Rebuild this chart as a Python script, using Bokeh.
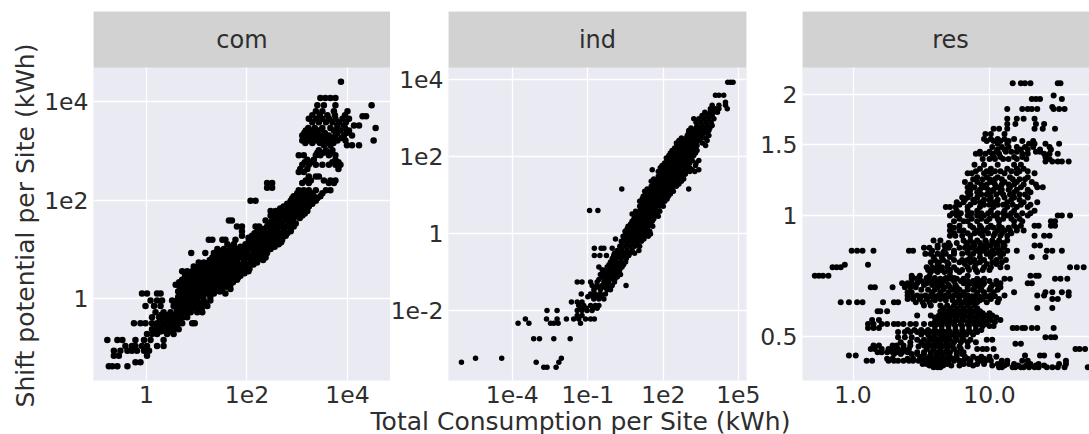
import numpy as np
from bokeh.plotting import figure
from bokeh.layouts import column, row
from bokeh.models import BoxAnnotation, FixedTicker, Label, Range1d
from bokeh.embed import file_html
from bokeh.resources import INLINE

# values are log10 of the data
com_log_y = [-1.36,-1.28,-1.15,-1.05,-.95,-.83,-.71,-.61,-.49,-.37,-.27,-.14,-.03,.11,.2,.29,.39,.47,.56,.66,.74,.84,.93,1.01,1.11,1.2,1.28,1.37,1.47,1.59,1.69,1.78,1.87,1.99,2.08,2.2,2.25,2.35,2.4,2.48,2.57,2.72,2.82,2.91,3.01,3.11,3.21,3.31,3.41,3.46,3.51,3.65,3.7,3.8,3.92,4.07,4.4,
 -.08,.04,.15,.25,.34,.43,.52,.61,.7,.79,.88,.97,1.06,1.15,1.24,1.33,1.42,1.53,1.64,1.73,1.83,1.93,2.04,2.14,2.77,3.16,3.26,3.36,3.58,3.72,2.96,-.2,-.32,-.43,-.55,-.66,2.63,3.46]
com_log_x = [
 [-.75,-.68,-.58,-.38],[-.22,-.12],[-.65,-.55,.01],[-.65,-.52,-.38,-.29,-.19,-.05,.05],
 [-.42,-.29,-.22,-.09,.01,.21,.34],[-.78,-.58,-.48,-.22,-.05,.08,.34],[.01,.11,.21,.41,.54],
 [.11,.25,.34,.44,.54,.64],[-.25,-.12,-.02,.11,.21,.34,.48,.61,.71,.91,.96],[.11,.25,.38,.51,.64,.74,.81],
 [.18,.34,.48,.61,.74,.88,1.01,1.11],[-.02,.15,.28,.54,.64,.74,.84,.94,1.07,1.21],
 [.08,.21,.31,.51,.61,.71,.81,.91,1.01,1.14,1.27],[-.09,.01,.21,.28,.68,.78,.88,.98,1.07,1.21,1.34,1.57],
 [.71,.81,.91,1.01,1.11,1.21,1.31,1.41,1.51,1.67],[.58,.71,.81,.91,1.01,1.11,1.21,1.31,1.41,1.54,1.67],
 [.71,.81,.91,1.01,1.11,1.21,1.31,1.41,1.54,1.67,1.8],[.78,.88,.98,1.08,1.18,1.28,1.38,1.48,1.61,1.74,1.87],
 [.71,.81,.91,1.01,1.11,1.21,1.31,1.41,1.51,1.61,1.74,1.87,2.03],[.94,1.04,1.14,1.24,1.34,1.44,1.54,1.64,1.74,1.87,2.0],
 [1.04,1.14,1.24,1.34,1.44,1.54,1.67,1.8,1.94,2.07,2.2],[1.31,1.41,1.51,1.61,1.74,1.87,2.0,2.14,2.27,2.37],
 [.89,1.17,1.34,1.47,1.61,1.74,1.87,2.0,2.14,2.27,2.4],[1.41,1.54,1.67,1.8,1.94,2.07,2.2,2.34,2.47],
 [1.61,1.74,1.97,2.1,2.24,2.37,2.5,2.63],[1.24,1.31,1.51,1.57,1.77,2.07,2.2,2.34,2.47,2.6,2.7],
 [1.9,2.1,2.24,2.37,2.5,2.63,2.77],[1.9,2.2,2.34,2.47,2.6,2.73,2.87],[1.8,1.9,2.17,2.24,2.4,2.54,2.67,2.8,2.93],
 [1.64,1.7,2.37,2.5,2.63,2.77,2.9],[2.47,2.6,2.73,2.87,3.0,3.1],[2.47,2.57,2.7,2.83,2.97,3.1,3.2],
 [2.73,2.87,3.0,3.13,3.23],[2.07,2.17,2.87,2.97,3.1,3.23,3.37],[2.93,3.07,3.2,3.33,3.46],[3.03,3.13,3.23,3.37,3.57,3.66],
 [2.4,2.5],[2.4,2.5,3.1,3.23,3.63,3.73],[3.17,3.27,3.53,3.66,3.76],[3.23,3.37,3.43],[3.03,3.13],
 [3.1,3.23,3.37,3.5,3.63,3.76,3.86],[3.2,3.33,3.76],[3.03,3.13,3.37,3.46,3.63,3.76],[3.43,3.57,3.7],
 [3.53,3.66,3.99,4.09,4.23],[3.1,3.23,3.37,3.5,3.63,3.8,3.96,4.52],[3.1,3.23,3.37,3.5,3.63,3.76,3.93,4.09],
 [3.17,3.3,3.43,3.73,3.86,4.03],[4.56],[3.8,3.93,4.13,4.23],[3.23,3.37,3.5,3.63,3.76,3.9,4.03],[4.3,4.37],
 [3.37,3.5,3.73,4.0],[3.4,3.53,3.76,4.48],[3.46,3.56,3.66,3.76],[3.87],
 [.56,.66,.76,.86,.96,1.06,1.16],[.63,.73,.83,.93,1.03,1.13,1.27],[.63,.73,.83,.93,1.03,1.15,1.26,1.36,1.46],
 [.66,.76,.86,.96,1.06,1.16,1.26,1.36,1.46,1.6],[.65,.76,.86,.96,1.06,1.16,1.26,1.36,1.47,1.6,1.72],
 [.76,.86,.96,1.06,1.16,1.26,1.36,1.46,1.57,1.7,1.82],[.76,.86,.96,1.06,1.16,1.26,1.36,1.46,1.56,1.68,1.8,1.95],
 [.99,1.09,1.19,1.29,1.39,1.49,1.59,1.69,1.81,1.94,2.05],[1.09,1.19,1.29,1.39,1.49,1.6,1.73,1.87,2.0,2.13],
 [1.26,1.36,1.46,1.56,1.68,1.8,1.94,2.07,2.2,2.32],[1.4,1.54,1.67,1.8,1.94,2.07,2.2,2.33],[1.48,1.6,1.74,1.87,2.0,2.14,2.27,2.4],
 [1.68,1.87,2.0,2.14,2.27,2.4,2.55],[2.03,2.17,2.3,2.43,2.56,2.68],[2.03,2.17,2.3,2.43,2.56,2.7],[2.15,2.27,2.4,2.54,2.67,2.8],
 [2.3,2.47,2.6,2.74,2.87],[2.44,2.57,2.7,2.84,2.97],[2.54,2.67,2.8,2.93,3.05],[2.53,2.65,2.8,2.9,3.03,3.15],[2.66,2.8,2.93,3.06,3.18],
 [2.8,2.92,3.04,3.17,3.3],[2.9,3.02,3.15,3.28,3.4],[3.0,3.1,3.2,3.3,3.5],[3.15,3.28,3.7,3.82],[3.16,3.3,3.45,3.58,3.72],
 [3.16,3.3,3.44,3.57,3.7,3.88],[3.14,3.27,3.4,3.55,3.8,3.98],[3.3,3.43,3.57,3.7,3.83,3.97],[3.3,3.45,3.6,3.75,3.95],[3.4,3.52,3.66],
 [.6,.7,.8,.9,1.0,1.1],[.3,.44,.58,.68,.78],[.28,.42,.55,.66],[.2,.3,.4,.5,.6],[.16,.28,.38,.48],[3.06,3.2,3.82],[3.22,3.35,3.5,3.66,3.8,3.95],
]

ind_log_y = [-3.48,-3.35,-3.25,-2.74,-2.34,-2.23,-2.14,-2.01,-1.88,-1.79,-1.71,-1.58,-1.47,-1.36,-1.27,-1.14,-1.01,-.88,-.75,-.58,-.45,-.39,-.28,-.15,-.02,.11,.24,.37,.5,.59,.63,.76,.89,1.02,1.15,1.28,1.41,1.54,1.65,1.76,1.89,2.02,2.15,2.28,2.41,2.54,2.67,2.8,2.97,3.06,3.23,3.32,3.4,3.58,3.92,
 -1.95,-1.65,-1.42,-1.2,-1.07,-.95,-.82,-.66,-.52,-.34,-.21,-.08,.05,.18,.31,.44,.57,.7,.83,.96,1.09,1.22,1.35,1.48,1.6,1.7,1.82,1.95,2.08,2.21,2.34,2.47,2.6,2.73,2.88,3.14]
ind_log_x = [
 [-2.75,-2.62,-2.26],[-6.02,-3.05,-2.15],[-5.46,-4.42,-2.05],[-3.15,-2.92,-2.35,-1.7],[-3.77,-3.34,-2.48,-2.35,-2.18,-1.29],
 [-3.48,-2.64,-2.22,-1.85,-1.56,-1.36,-1.09,-.89,-.74],[-1.42,-1.23],[-2.62,-2.22,-1.42,-1.23,-1.03,-.83],
 [-1.36,-1.16,-.89,-.7,-.56],[-1.65,-1.42,-1.23],[-.76,-.56,-.36],[-1.26,-.89,-.7,-.5,-.3],[-.76,-.5,-.23,-.1],
 [-.83,-.63,-.43,-.23,-.03,.52],[-1.42,-1.23,-.89,-.63,-.36,-.17,.06],[-.43,-.23,-.03,.17],[-.36,-.17,.03,.23],
 [-.56,-.23,-.03,.17,.36],[-.1,.1,.3,.5],[-.74,-.52,-.26,.03,.23,.43,.63],[.17,.36,.56,.76,1.03],[-.74,-.47,-.36,-.03],
 [.36,.56,.76,.96],[.1,.43,.63,.83,1.03,1.23],[.5,.7,.89,1.09,1.29,1.49],[.56,.76,.96,1.16,1.36],[.7,.89,1.09,1.29,1.49],
 [.83,1.03,1.23,1.42,1.62],[.76,.96,1.16,1.36,1.56,1.75],[-.93,-.6],[1.09,1.29,1.49,1.69],[1.16,1.36,1.56,1.75,1.95],
 [1.16,1.36,1.56,1.75,1.95,2.15],[1.29,1.49,1.69,1.89,2.09,2.28],[.35,1.36,1.56,1.75,1.95,2.15,2.35,3.01],
 [1.62,1.82,2.02,2.22,2.42,2.62],[1.62,1.82,2.02,2.22,2.42,2.62,2.81],[1.89,2.09,2.28,2.48,2.68,2.88],
 [1.56,1.89,2.15,2.35,2.55,2.75,2.95,3.15,3.41],[1.95,2.15,2.35,2.55,2.75,2.95,3.28],[2.15,2.35,2.55,2.75,2.95,3.15,3.41],
 [2.22,2.42,2.62,2.81,3.01,3.21],[2.35,2.55,2.75,2.95,3.15,3.34],[2.55,2.75,2.95,3.15,3.34,3.68],[2.62,2.81,3.01,3.21,3.41,3.74],
 [2.95,3.15,3.34,3.54,3.81],[3.01,3.21,3.41,3.61,3.81],[3.34,3.54,3.74,3.94],[3.21,3.41,3.61,3.81,4.01],[3.54,3.74,3.94],
 [3.87,4.07,4.21,4.54],[3.94,4.21,4.47],[4.47],[4.07,4.21,4.4],[4.56,4.67,4.77],
 [-1.26,-1.06,-.8,-.63],[-1.0,-.8,-.6,-.45],[-.7,-.5,-.3,-.1],[-.56,-.33,-.13,.07],[-.5,-.3,-.1,.1,.3],[-.43,-.26,-.07,.13,.27],
 [-.16,.03,.23,.42],[-.03,.13,.33,.53],[.06,.26,.46,.66,.86],[.27,.46,.66,.86,1.06],[.33,.53,.73,.93,1.13],[.4,.6,.8,1,1.2,1.4],
 [.48,.66,.86,1.06,1.26,1.46],[.6,.8,1.0,1.2,1.4,1.58],[.76,.96,1.16,1.36,1.56],[.86,1.06,1.26,1.46,1.66,1.8],[.9,1.1,1.3,1.5,1.7,1.86],
 [1.06,1.26,1.46,1.66,1.86,2.0],[1.06,1.26,1.46,1.66,1.86,2.06],[1.2,1.4,1.6,1.8,2.0,2.2],[1.26,1.46,1.66,1.86,2.06,2.26,2.4],
 [1.52,1.72,1.92,2.12,2.32,2.52],[1.52,1.72,1.92,2.12,2.32,2.52,2.72],[1.8,2.0,2.2,2.4,2.6,2.8],[1.8,2.0,2.25,2.45,2.65,2.85,3.05,3.25],
 [1.88,2.05,2.25,2.45,2.65,2.85,3.05],[2.05,2.25,2.45,2.65,2.85,3.05,3.3],[2.12,2.32,2.52,2.72,2.92,3.12],[2.28,2.48,2.68,2.88,3.08,3.28],
 [2.45,2.65,2.85,3.05,3.25],[2.52,2.72,2.92,3.12,3.32,3.55],[2.72,2.92,3.12,3.32,3.52,3.68],[3.0,3.2,3.4,3.6,3.75],[3.1,3.3,3.5,3.7,3.85],
 [3.3,3.5,3.7,3.9],[3.65,3.85,4.0,4.15],
]

res_log_y = [-.376,-.368,-.36,-.355,-.347,-.339,-.331,-.322,-.318,-.308,-.302,-.289,-.279,-.269,-.259,-.248,-.237,-.229,-.223,-.215,-.207,-.198,-.19,-.178,-.168,-.157,-.149,-.14,-.128,-.122,-.116,-.103,-.087,-.074,-.062,-.05,-.037,-.025,-.014,0,.012,.021,.033,.045,.058,.07,.083,.095,.105,.116,.126,.134,.145,.153,.164,.178,.19,.202,.215,.227,.24,.264,.269,.289,.298,.328,
 -.372,-.35,-.343,-.325,-.314,-.295,-.284,-.274,-.264,-.253,-.242,-.23,-.21,-.2,-.184,-.172,-.162,-.135,-.11,-.095,-.08,-.068,-.044,-.03,-.008,.006,.027,.039,.052,.064,.077,.09,.11,.14,.158,.17,.185,-.12,-.092,-.155]
res_log_x = [
 [.59,.62,.64,1.07,1.09,1.17,1.19,1.23,1.25,1.29,1.33,1.36,1.42,1.46,1.5,1.55,1.72],
 [.51,.54,.58,.62,.65,.69,.81,.85,.91,.96,1.06,1.09,1.13,1.18,1.3,1.36,1.51,1.56],
 [.1,.14,.26,.3,.33,.37,.41,.44,.48,.52,.56,.59,.63,.67,.7,.74,.78,.81,.86,.93,.97,1.01,1.09,1.13,1.24,1.28,1.56],
 [.25,.29,.4,.44,.49,.54,.59,.64,.69,.74,.84,.91,.96],[-.03,.02,1.26,1.37,1.4,1.5],
 [.18,.21,.25,.29,.32,.36,.4,.47,.52,.57,.62,.67,.71,.76,.81],
 [.13,.16,.21,.26,.3,.33,.37,.41,.54,.59,.64,.69,.74,.79,.91,.95,.98,1.03,1.63,1.66,1.7],
 [.15,.19,.29,.32,.37,.42,.52,.57,.62,.67,.71],[1.19,1.23],[.47,.52,.57,.62,.67,.71,.76,.81,.86,.98,1.02],
 [.33,.38,.43,.56,.6,.65,.7,.75,.8,1.41,1.45,1.48],[.33,.38,.42,.47,.52,.57,.62,.67,.71,.76,.81,.86,.91],
 [.11,.15,.19,1.17,1.2,1.24,1.26,1.31,1.35,1.47],
 [.11,.15,.21,.25,.3,.33,.37,.42,.46,.52,.57,.62,.65,.69,.74,.79,.84,.89,.93,.97],
 [.14,.19,.62,.67,.71,.76,.81,.86,.91,.96,1.01,1.08],[.47,.57,.63,.68,.73,.78,.82,.87,.92,.97,1.02],
 [.18,.2,.25,.64,.69,.74,.79,.84,.89,.93],[1.35,1.46],[.52,.57,.64,.69,.74,.79,.84,.89],
 [-.09,-.03,.03,.07,.22,.3,.33,.46,.51,.56,.76,.81,.86,.91,.98,1.06],[.4,.44,.49,.54,.59,.64,.84,.89,.95,1.01,1.07,1.46,1.5],
 [.4,.47,.53,.58,.63,.68,.74,.79,.84,.9,.96,1.01,1.11,1.35,1.4,1.58],[.4,.43,.58,.64,.7,.76,.81,.91,.96,1.03,1.18,1.41,1.46,1.53,1.58],
 [.13,.16,.29,.38,.42,.46,.62,.67,.71,.76,.84,.89,.93,1.01,1.08],[.36,.4,.43,.47,.54,.6,.65,.81,.86,.91,.96,1.08,1.28,1.31],
 [.43,.47,.54,.64,.71,.76,.81,.91,.96,1.11,1.15,1.48,1.52,1.57],[-.28,-.25,-.22,-.18,.43,.49,.56,.71,.84,1.3,1.34,1.36],
 [.57,.62,.67,.71,.78,.91],[-.15,-.12,-.09,.54,.58,.62,.65,.69,.74,.84,.89,.96,1.01,1.08,1.13,1.59,1.64,1.69],[-.06,.11],
 [.57,.63,.69,.78,.86,.93,1.02,1.09],[.59,.65,.71,.86,.93,1.01,1.08,1.31,1.41],
 [-.01,.03,.07,.15,.41,.44,.58,.67,.74,.84,.9,.96,1.02,1.08,1.13,1.2,1.42,1.46,1.53],
 [.62,.67,.71,.84,.89,.96,1.01,1.06,1.11,1.33,1.37],[.59,.64,.81,.86,.91,.97,1.02,1.07,1.13],
 [.71,.75,.8,.86,.95,1.03,1.08,1.13,1.33,1.4,1.44],[.71,.78,.81,.91,.96,1.06,1.11,1.15,1.2,1.25],
 [.71,.78,.86,.93,1.01,1.07,1.18,1.23,1.33,1.36,1.45,1.48],[.74,.81,.84,.91,.98,1.07,1.18,1.24,1.45,1.48],
 [.71,.76,.84,.91,.96,1.03,1.13,1.2,1.28,1.5,1.53,1.59],[.76,.84,.91,1.01,1.11,1.18,1.33],[.68,.71,.75,.84,.93,1.03,1.13,1.2,1.28],
 [.76,.81,.89,.93,1.03,1.13,1.25,1.35],[.8,.84,.91,1.01,1.11,1.18,1.28],[.84,.91,1.01,1.08,1.18,1.3],
 [.84,.89,.96,1.06,1.15,1.23,1.35,1.39],[.82,.91,1.01,1.11,1.2,1.31],[.91,.98,1.06,1.15,1.28],[.84,.87,.96,1.01,1.11,1.2,1.33],
 [.93,1.01,1.13,1.2,1.25],[.89,.96,1.06,1.18,1.23],[1.41,1.46,1.5,1.53,1.58],[1.03,1.08,1.18,1.24,1.41],
 [.9,.93,.97,1.02,1.07,1.24,1.28,1.4,1.44,1.5],[1.06,1.11,1.23,1.28,1.37,1.45],[1.06,1.13,1.29,1.33,1.41,1.51],
 [.96,1.01,1.06,1.11,1.18],[.97,1.01,1.11],[1.03,1.07,1.13,1.33,1.39,1.48],[1.13,1.19,1.34,1.4],[1.13,1.2,1.25,1.33],
 [1.13,1.24,1.28,1.31,1.35,1.47,1.51,1.55],[1.46],[1.31,1.34,1.37,1.53],[1.47],[1.17,1.23,1.26,1.3,1.5,1.52],
 [.56,.66,.72,.78,.88,1.02,1.11,1.21,1.27,1.34,1.4],[.5,.56,.61,.66,.71,.76,.82,.88,.94,1.0,1.05],[.3,.35,.43,.47,.52,.57,.61,.65,.7,.76,.8],
 [.48,.55,.6,.65,.69,.73,.78,.84],[.35,.42,.5,.55,.6,.64,.69,.74,.79,.84,.9],[.5,.55,.6,.64,.68,.73,.78,.83,.88],
 [.4,.45,.5,.55,.6,.65,.7,.75,.8,.85,.9,.94],[.6,.65,.7,.75,.8,.85,.9,.95,1.0,1.03],[.6,.65,.7,.74,.79,.84,.88,.93,.98,1.04],
 [.6,.65,.7,.75,.8,.85,.9,.95,1.0,1.05],[.66,.71,.76,.81,.86,.91,.95,1.0],[.66,.71,.76,.81,.86,.91],[.6,.68,.73,.78,.83,.88,.93],
 [.44,.5,.56,.61,.66,.71,.77,.82,.87,.92,.98,1.04],[.5,.55,.6,.66,.73,.78,.84,.88,.94,1.0,1.06],[.38,.44,.52,.58,.64,.7,.75,.84,.9,.95,1.02,1.06],
 [.5,.57,.62,.68,.74,.79,.84,.88,.93,1.0,1.05],[.55,.6,.65,.71,.76,.8,.85,.9,.95,1.0],[.6,.66,.74,.8,.84,.89,.96,1.05,1.12],
 [.53,.57,.62,.68,.74,.8,.88,.98,1.03,1.1],[.52,.56,.62,.7,.78,.82,.87,.93,.98,1.05,1.1],[.7,.76,.83,.88,.93,.98,1.04,1.1],
 [.74,.84,.89,.93,.99,1.04,1.09,1.16],[.74,.88,.94,.99,1.03,1.09,1.14,1.2],[.78,.87,.94,1.0,1.06,1.1,1.16,1.22],
 [.73,.79,.87,.94,.99,1.06,1.1,1.16,1.24,1.3],[.78,.86,.96,1.0,1.06,1.1,1.17,1.23,1.3],[.82,.88,.96,1.0,1.06,1.16,1.22],
 [.86,.94,.98,1.05,1.1,1.15,1.22,1.26],[.86,.93,.99,1.03,1.09,1.14,1.2,1.28],[.86,.94,.98,1.04,1.09,1.14,1.18,1.25,1.34],
 [.88,.95,1.0,1.04,1.09,1.17,1.22,1.26],[.9,.98,1.04,1.08,1.16,1.22,1.28],[.95,1.0,1.04,1.1,1.14,1.2,1.27,1.44],
 [.93,1.0,1.05,1.12,1.16,1.2,1.34,1.37],[1.02,1.09,1.14,1.2,1.26,1.32,1.44],[.98,1.03,1.08,1.14,1.24,1.32],
 [.62,.7,.82,.9,.98,1.05],[.66,.74,.84,.93,1.0,1.06],[.44,.48,.54,.6,.68,.74],
]

com_xticks, com_xlabels = [1, 100, 10000], ["1", "1e2", "1e4"]
com_yticks, com_ylabels = [1, 100, 10000], ["1", "1e2", "1e4"]
ind_xticks, ind_xlabels = [1e-4, 1e-1, 1e2, 1e5], ["1e-4", "1e-1", "1e2", "1e5"]
ind_yticks, ind_ylabels = [1e-2, 1, 1e2, 1e4], ["1e-2", "1", "1e2", "1e4"]
res_xticks, res_xlabels = [1, 10], ["1.0", "10.0"]
res_yticks, res_ylabels = [0.5, 1, 1.5, 2], ["0.5", "1", "1.5", "2"]

INK = "#2e2e2e"
FONT = "DejaVu Sans"
FS = "23.5px"
H = 414


def flat(levels, runs):
    xs, ys = [], []
    for y, run in zip(levels, runs, strict=True):
        xs += run
        ys += [y] * len(run)
    return 10.0 ** np.array(xs), 10.0 ** np.array(ys)


def panel(title, levels, runs, xr, yr, strip_y, xt, xl, yt, yl, w, left, right, size, shift):
    p = figure(width=w, height=H, x_axis_type="log", y_axis_type="log",
               x_range=Range1d(10**xr[0], 10**xr[1]), y_range=Range1d(10**yr[0], 10**yr[1]),
               output_backend="svg", toolbar_location=None, min_border_left=left,
               min_border_right=right, min_border_top=11, min_border_bottom=34,
               background_fill_color="#eaeaf2", border_fill_color=None, outline_line_color=None,
               margin=(0, 0, 0, -shift))
    x, y = flat(levels, runs)
    p.scatter(x, y, size=size, color="black", line_width=0)
    for ax, ticks, labels in ((p.xaxis[0], xt, xl), (p.yaxis[0], yt, yl)):
        ax.ticker = FixedTicker(ticks=ticks, minor_ticks=[])
        ax.major_label_overrides = dict(zip(ticks, labels))
        ax.axis_line_color = None
        ax.major_tick_line_color = None
        ax.minor_tick_line_color = None
        ax.major_tick_in = 0
        ax.major_tick_out = 0
        ax.major_label_standoff = 5
        ax.major_label_text_font = FONT
        ax.major_label_text_font_size = FS
        ax.major_label_text_color = INK
    p.grid.grid_line_color = "white"
    p.grid.grid_line_width = 1.3
    p.add_layout(BoxAnnotation(bottom=10**strip_y, fill_color="#d2d2d2", fill_alpha=1,
                               line_color=None, level="overlay"))
    p.add_layout(Label(x=10**((xr[0] + xr[1]) / 2 if title != "res" else xr[0] + 148 / 136.5),
                       y=10**((yr[1] + strip_y) / 2), text=title, text_align="center",
                       text_baseline="middle", text_font=FONT, text_font_size="24px",
                       text_color=INK, level="overlay"))
    return p


com = panel("com", com_log_y, com_log_x, (-1.055, 4.856), (-1.65, 5.82), 4.686,
            com_xticks, com_xlabels, com_yticks, com_ylabels, 349, 52, 0, 6.5, 5)
ind = panel("ind", ind_log_y, ind_log_x, (-6.534, 5.305), (-3.826, 5.758), 4.303,
            ind_xticks, ind_xlabels, ind_yticks, ind_ylabels, 374, 62, 14, 5.5, 4)
res = panel("res", res_log_y, res_log_x, (-.37, 1.7326), (-.409, .506), .367,
            res_xticks, res_xlabels, res_yticks, res_ylabels, 333, 46, 0, 6, 4)

side = figure(width=46, height=H, x_range=Range1d(0, 1), y_range=Range1d(0, 1), x_axis_location=None,
              output_backend="svg", toolbar_location=None, min_border_left=39, min_border_right=7,
              min_border_top=46, min_border_bottom=H - 404, outline_line_color=None,
              border_fill_color=None, background_fill_color=None)
side.grid.visible = False
side.yaxis.ticker = FixedTicker(ticks=[])
side.yaxis.axis_line_color = None
side.yaxis.major_tick_line_color = None
side.yaxis.minor_tick_line_color = None
side.yaxis.major_label_text_font_size = "0px"
side.yaxis.major_label_standoff = 0
side.yaxis.axis_label = "Shift potential per Site (kWh)"
side.yaxis.axis_label_standoff = 0
side.yaxis.axis_label_text_font = FONT
side.yaxis.axis_label_text_font_size = "25px"
side.yaxis.axis_label_text_font_style = "normal"
side.yaxis.axis_label_text_color = INK

foot = figure(width=1089, height=30, x_range=Range1d(0, 1), y_range=Range1d(0, 1),
              x_axis_location=None, y_axis_location=None, output_backend="svg", toolbar_location=None,
              min_border=0, outline_line_color=None, border_fill_color=None,
              background_fill_color=None, margin=(-10, 0, 0, 0))
foot.grid.visible = False
foot.add_layout(Label(x=0.5326, y=0.45, text="Total Consumption per Site (kWh)", text_align="center",
                      text_baseline="middle", text_font=FONT, text_font_size="25px", text_color=INK))

page = row(column(side), column(row(com, ind, res, spacing=0), spacing=0), spacing=0)
page = column(page, foot, spacing=0)
open("out.html", "w").write(file_html(page, INLINE))
